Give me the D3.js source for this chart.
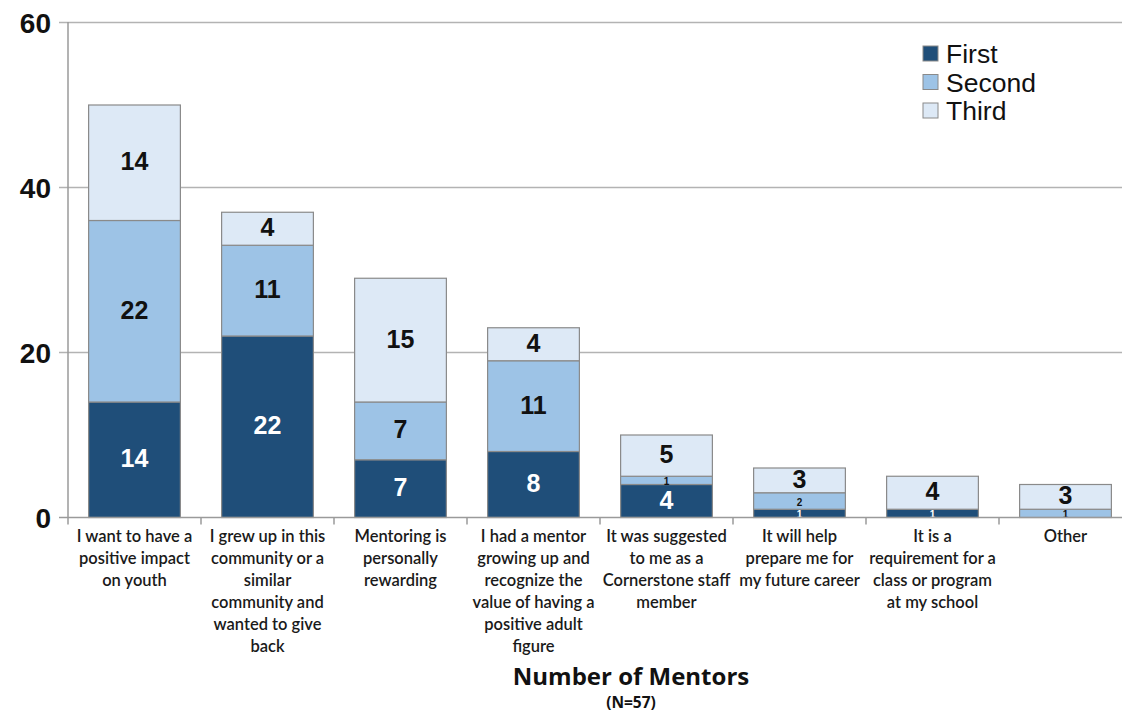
<!DOCTYPE html>
<html>
<head>
<meta charset="utf-8">
<script src="https://cdn.jsdelivr.net/npm/d3@7"></script>
<style>
  body { margin: 0; background: #fff; }
  svg { display: block; }
</style>
</head>
<body>
<script>
'use strict';

var categories = [
  ['I want to have a', 'positive impact', 'on youth'],
  ['I grew up in this', 'community or a', 'similar', 'community and', 'wanted to give', 'back'],
  ['Mentoring is', 'personally', 'rewarding'],
  ['I had a mentor', 'growing up and', 'recognize the', 'value of having a', 'positive adult', 'figure'],
  ['It was suggested', 'to me as a', 'Cornerstone staff', 'member'],
  ['It will help', 'prepare me for', 'my future career'],
  ['It is a', 'requirement for a', 'class or program', 'at my school'],
  ['Other']
];
var seriesNames = ['First', 'Second', 'Third'];
var first = [14, 22, 7, 8, 4, 1, 1, 0];
var second = [22, 11, 7, 11, 1, 2, 0, 1];
var third = [14, 4, 15, 4, 5, 3, 4, 3];
var yTicks = [0, 20, 40, 60];

var width = 1122;
var height = 715;
var colors = ['#1f4e79', '#9dc3e6', '#dde9f6'];

var svg = d3.select('body').append('svg')
  .attr('width', width)
  .attr('height', height);

var x = d3.scaleBand()
  .domain(d3.range(categories.length))
  .range([68, 1132])
  .paddingInner(0.31)
  .paddingOuter(0.155);

var y = d3.scaleLinear().domain([0, 60]).range([517.5, 22.5]);

// gridlines
svg.append('g').selectAll('line')
  .data(yTicks.filter(function(d) { return d > 0; }))
  .enter().append('line')
  .attr('x1', 59).attr('x2', width)
  .attr('y1', function(d) { return y(d); })
  .attr('y2', function(d) { return y(d); })
  .attr('stroke', '#b3b3b3').attr('stroke-width', 1.5);

// y tick labels
svg.append('g').selectAll('text')
  .data(yTicks)
  .enter().append('text')
  .attr('x', 51)
  .attr('y', function(d) { return y(d) + 10; })
  .attr('text-anchor', 'end')
  .style('font', 'bold 28px "Liberation Sans", Arial, sans-serif')
  .style('fill', '#111')
  .text(function(d) { return d; });

// stacked data
var rows = categories.map(function(c, i) {
  return { i: i, First: first[i], Second: second[i], Third: third[i] };
});
var stack = d3.stack().keys(seriesNames)(rows);

var layer = svg.append('g').selectAll('g')
  .data(stack)
  .enter().append('g')
  .attr('fill', function(d, i) { return colors[i]; });

layer.selectAll('rect')
  .data(function(d) { return d.filter(function(s) { return s[1] - s[0] > 0; }); })
  .enter().append('rect')
  .attr('x', function(d) { return x(d.data.i); })
  .attr('width', x.bandwidth())
  .attr('y', function(d) { return y(d[1]); })
  .attr('height', function(d) { return y(d[0]) - y(d[1]); })
  .attr('stroke', '#8a8a8a')
  .attr('stroke-width', 1.2);

// segment labels
stack.forEach(function(s, si) {
  svg.append('g').selectAll('text')
    .data(s.filter(function(d) { return d[1] - d[0] > 0; }))
    .enter().append('text')
    .attr('x', function(d) { return x(d.data.i) + x.bandwidth() / 2; })
    .attr('y', function(d) {
      var v = d[1] - d[0];
      var mid = (y(d[0]) + y(d[1])) / 2;
      return mid + (v <= 2 ? 4.5 : 7.5);
    })
    .attr('text-anchor', 'middle')
    .style('font-family', '"Liberation Sans", Arial, sans-serif')
    .style('font-weight', 'bold')
    .style('font-size', function(d) { return (d[1] - d[0]) <= 2 ? '10px' : '25px'; })
    .style('fill', si === 0 ? '#fff' : '#111')
    .text(function(d) { return d[1] - d[0]; });
});

// axis lines
svg.append('line')
  .attr('x1', 68).attr('x2', 68).attr('y1', 22).attr('y2', 518)
  .attr('stroke', '#9a9a9a').attr('stroke-width', 1.5);
svg.append('line')
  .attr('x1', 59).attr('x2', width).attr('y1', y(0)).attr('y2', y(0))
  .attr('stroke', '#9a9a9a').attr('stroke-width', 1.5);

// x ticks at band edges
svg.append('g').selectAll('line')
  .data(d3.range(categories.length + 1))
  .enter().append('line')
  .attr('x1', function(i) { return 68 + i * x.step(); })
  .attr('x2', function(i) { return 68 + i * x.step(); })
  .attr('y1', y(0)).attr('y2', y(0) + 7)
  .attr('stroke', '#9a9a9a').attr('stroke-width', 1.5);

// category labels
var cat = svg.append('g').selectAll('text')
  .data(categories)
  .enter().append('text')
  .attr('text-anchor', 'middle')
  .style('font', '600 16.5px Lato, "Open Sans", sans-serif')
  .style('fill', '#1a1a1a');

cat.selectAll('tspan')
  .data(function(d, i) { return d.map(function(line) { return { line: line, i: i }; }); })
  .enter().append('tspan')
  .attr('x', function(d) { return x(d.i) + x.bandwidth() / 2; })
  .attr('y', function(d, j) { return 542 + j * 22; })
  .text(function(d) { return d.line; });

// title
svg.append('text')
  .attr('x', 631).attr('y', 685)
  .attr('text-anchor', 'middle')
  .style('font', 'bold 24px "Open Sans", sans-serif')
  .style('fill', '#111')
  .text('Number of Mentors');
svg.append('text')
  .attr('x', 631).attr('y', 708)
  .attr('text-anchor', 'middle')
  .style('font', 'bold 15.5px "Open Sans", sans-serif')
  .style('fill', '#111')
  .text('(N=57)');

// legend
var legend = svg.append('g').selectAll('g')
  .data(seriesNames)
  .enter().append('g')
  .attr('transform', function(d, i) { return 'translate(923,' + (46 + i * 28.5) + ')'; });
legend.append('rect')
  .attr('width', 15).attr('height', 15)
  .attr('fill', function(d, i) { return colors[i]; })
  .attr('stroke', '#8a8a8a').attr('stroke-width', 1);
legend.append('text')
  .attr('x', 23).attr('y', 17)
  .style('font', '26.5px "Liberation Sans", Arial, sans-serif')
  .style('fill', '#111')
  .text(function(d) { return d; });
</script>
</body>
</html>
